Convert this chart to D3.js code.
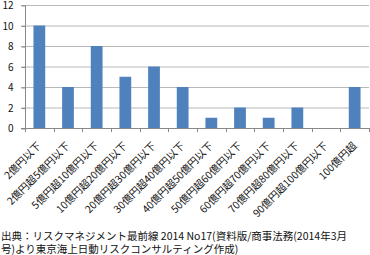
<!DOCTYPE html>
<html>
<head>
<meta charset="utf-8">
<script src="https://cdn.jsdelivr.net/npm/d3@7"></script>
<style>
    body { margin: 0; background: #fff; }
    svg { display: block; }
</style>
</head>
<body>
<div id="chart"></div>
<script>
// 案件規模別の件数
let categories = [
    "2億円以下", "2億円超5億円以下", "5億円超10億円以下", "10億円超20億円以下",
    "20億円超30億円以下", "30億円超40億円以下", "40億円超50億円以下", "50億円超60億円以下",
    "60億円超70億円以下", "70億円超80億円以下", "90億円超100億円以下", "100億円超"
];
let counts = [10, 4, 8, 5, 6, 4, 1, 2, 1, 2, 0, 4];
let yTicks = [0, 2, 4, 6, 8, 10, 12];
let sourceLines = [
    "出典：リスクマネジメント最前線 2014 No17(資料版/商事法務(2014年3月",
    "号)より東京海上日動リスクコンサルティング作成)"
];

let width = 370, height = 255;
let plotLeft = 25, plotRight = 369, plotTop = 5, plotBottom = 128;
let font = "'Noto Sans CJK JP', 'Noto Sans', sans-serif";

let svg = d3.select("#chart").append("svg")
    .attr("width", width)
    .attr("height", height);

let x = d3.scaleBand()
    .domain(categories)
    .range([plotLeft, plotRight])
    .paddingInner(0.59)
    .paddingOuter(0.295);

let y = d3.scaleLinear()
    .domain([0, 12])
    .range([plotBottom, plotTop]);

// グリッド線
svg.append("g")
    .selectAll("line")
    .data(yTicks.filter(d => d > 0))
    .enter()
    .append("line")
    .attr("x1", plotLeft - 4)
    .attr("x2", plotRight)
    .attr("y1", d => y(d) + 0.5)
    .attr("y2", d => y(d) + 0.5)
    .attr("stroke", "#b8b8b8")
    .attr("stroke-width", 1);

// 棒
svg.append("g")
    .selectAll("rect")
    .data(counts)
    .enter()
    .append("rect")
    .attr("x", (d, i) => x(categories[i]))
    .attr("y", d => y(d))
    .attr("width", x.bandwidth())
    .attr("height", d => y(0) - y(d))
    .attr("fill", "#4f81bd");

// y軸
let yAxis = d3.axisLeft(y)
    .tickValues(yTicks)
    .tickSize(4)
    .tickPadding(8);

let gy = svg.append("g")
    .attr("transform", "translate(" + (plotLeft + 0.5) + ",0.5)")
    .call(yAxis);
gy.select(".domain").attr("stroke", "#888").attr("d", "M0," + plotTop + "V" + plotBottom);
gy.selectAll(".tick line").attr("stroke", "#888");
gy.selectAll(".tick text")
    .attr("fill", "#111")
    .attr("dy", "0.34em")
    .style("font-family", font)
    .style("font-size", "10px");

// x軸（目盛りはカテゴリの境界）
let step = x.step();
let bounds = d3.range(categories.length + 1).map(i => plotLeft + i * step);
svg.append("line")
    .attr("x1", plotLeft - 4)
    .attr("x2", plotRight)
    .attr("y1", plotBottom + 0.5)
    .attr("y2", plotBottom + 0.5)
    .attr("stroke", "#888");
svg.append("g")
    .selectAll("line")
    .data(bounds)
    .enter()
    .append("line")
    .attr("x1", d => Math.round(d) + 0.5)
    .attr("x2", d => Math.round(d) + 0.5)
    .attr("y1", plotBottom)
    .attr("y2", plotBottom + 4)
    .attr("stroke", "#888");

svg.append("g")
    .selectAll("text")
    .data(categories)
    .enter()
    .append("text")
    .attr("transform", d => "translate(" + (x(d) + x.bandwidth() / 2) + "," + (plotBottom + 16) + ") rotate(-45)")
    .attr("text-anchor", "end")
    .attr("dy", "0.35em")
    .style("font-family", font)
    .style("font-size", "10.3px")
    .attr("fill", "#111")
    .text(d => d);

// 出典（2行を1つのtextにまとめる）
svg.append("text")
    .style("font-family", font)
    .style("font-size", "10.5px")
    .attr("fill", "#111")
    .selectAll("tspan")
    .data(sourceLines)
    .enter()
    .append("tspan")
    .attr("x", 1)
    .attr("y", (d, i) => 240 + i * 13)
    .text(d => d);
</script>
</body>
</html>
